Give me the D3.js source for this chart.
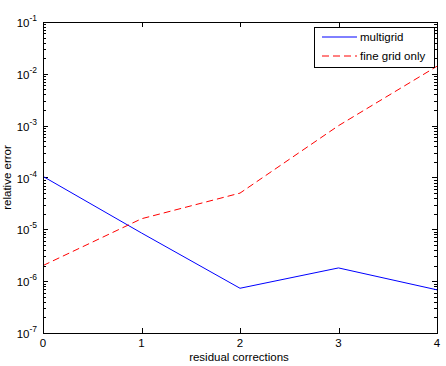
<!DOCTYPE html>
<html>
<head>
<meta charset="utf-8">
<script src="https://cdn.jsdelivr.net/npm/d3@7"></script>
<style>
  body { margin: 0; background: #fff; }
  text { font-family: "Liberation Sans", Arial, sans-serif; fill: #000; }
</style>
</head>
<body>
<svg id="chart" width="446" height="366"></svg>
<script>
// data
var corrections = [0, 1, 2, 3, 4];
var multigrid = [1.05e-4, 8.5e-6, 7.3e-7, 1.8e-6, 6.8e-7];
var fineGridOnly = [2.0e-6, 1.6e-5, 5.0e-5, 1.0e-3, 1.4e-2];
var yExponents = [-1, -2, -3, -4, -5, -6, -7];
var legendNames = ["multigrid", "fine grid only"];

var svg = d3.select("#chart");
// plot box (note: "top" is reserved on window, so use other names)
var boxL = 43, boxR = 437, boxT = 22, boxB = 333;

var x = d3.scaleLinear().domain([0, 4]).range([boxL, boxR]);
var y = d3.scaleLog().domain([1e-7, 1e-1]).range([boxB, boxT]);

// minor ticks on the log axis, inward, both sides
var minor = [];
for (var e = -7; e < -1; e++) {
    for (var m = 2; m <= 9; m++) minor.push(m * Math.pow(10, e));
}
var ticks = svg.append("g").attr("stroke", "#000").attr("stroke-width", 1);
minor.forEach(function (v) {
    var yy = Math.round(y(v)) + 0.5;
    ticks.append("line").attr("x1", boxL).attr("x2", boxL + 3).attr("y1", yy).attr("y2", yy);
    ticks.append("line").attr("x1", boxR - 3).attr("x2", boxR).attr("y1", yy).attr("y2", yy);
});
yExponents.forEach(function (p) {
    var yy = Math.round(y(Math.pow(10, p))) + 0.5;
    ticks.append("line").attr("x1", boxL).attr("x2", boxL + 5).attr("y1", yy).attr("y2", yy);
    ticks.append("line").attr("x1", boxR - 5).attr("x2", boxR).attr("y1", yy).attr("y2", yy);
});
corrections.forEach(function (c) {
    var xx = Math.round(x(c)) + 0.5;
    ticks.append("line").attr("x1", xx).attr("x2", xx).attr("y1", boxB).attr("y2", boxB - 5);
    ticks.append("line").attr("x1", xx).attr("x2", xx).attr("y1", boxT).attr("y2", boxT + 5);
});

// data lines
var line = d3.line()
    .x(function (d) { return x(d[0]); })
    .y(function (d) { return y(d[1]); });

svg.append("path")
    .datum(d3.zip(corrections, multigrid))
    .attr("d", line)
    .attr("fill", "none")
    .attr("stroke", "#0000ff")
    .attr("stroke-width", 1);

svg.append("path")
    .datum(d3.zip(corrections, fineGridOnly))
    .attr("d", line)
    .attr("fill", "none")
    .attr("stroke", "#ff0000")
    .attr("stroke-width", 1)
    .attr("stroke-dasharray", "7,4");

// axes box
svg.append("rect")
    .attr("x", boxL + 0.5).attr("y", boxT + 0.5)
    .attr("width", boxR - boxL).attr("height", boxB - boxT)
    .attr("fill", "none").attr("stroke", "#000").attr("stroke-width", 1);

// y tick labels (10 with superscript exponent)
yExponents.forEach(function (p) {
    var t = svg.append("text")
        .attr("x", 37)
        .attr("y", y(Math.pow(10, p)) + 5)
        .attr("text-anchor", "end")
        .style("font-size", "11.5px");
    t.append("tspan").text("10");
    t.append("tspan").attr("dy", -6).style("font-size", "8.5px").text(p);
});

// x tick labels
corrections.forEach(function (c) {
    svg.append("text")
        .attr("x", x(c))
        .attr("y", 347)
        .attr("text-anchor", "middle")
        .style("font-size", "11.5px")
        .text(c);
});

svg.append("text")
    .attr("x", 239)
    .attr("y", 361)
    .attr("text-anchor", "middle")
    .style("font-size", "11.5px")
    .text("residual corrections");

svg.append("text")
    .attr("transform", "translate(11," + (boxT + boxB) / 2 + ") rotate(-90)")
    .attr("text-anchor", "middle")
    .style("font-size", "11.5px")
    .text("relative error");

// legend
var legend = svg.append("g");
legend.append("rect")
    .attr("x", 314.5).attr("y", 27.5).attr("width", 120).attr("height", 40)
    .attr("fill", "#fff").attr("stroke", "#000");
var legendStyles = [
    { color: "#0000ff", dash: null },
    { color: "#ff0000", dash: "7,4" }
];
legendNames.forEach(function (name, i) {
    var ly = 37 + i * 19;
    legend.append("line")
        .attr("x1", 322).attr("x2", 357).attr("y1", ly).attr("y2", ly)
        .attr("stroke", legendStyles[i].color)
        .attr("stroke-dasharray", legendStyles[i].dash);
    legend.append("text")
        .attr("x", 360).attr("y", ly + 4)
        .style("font-size", "11.5px")
        .text(name);
});
</script>
</body>
</html>
